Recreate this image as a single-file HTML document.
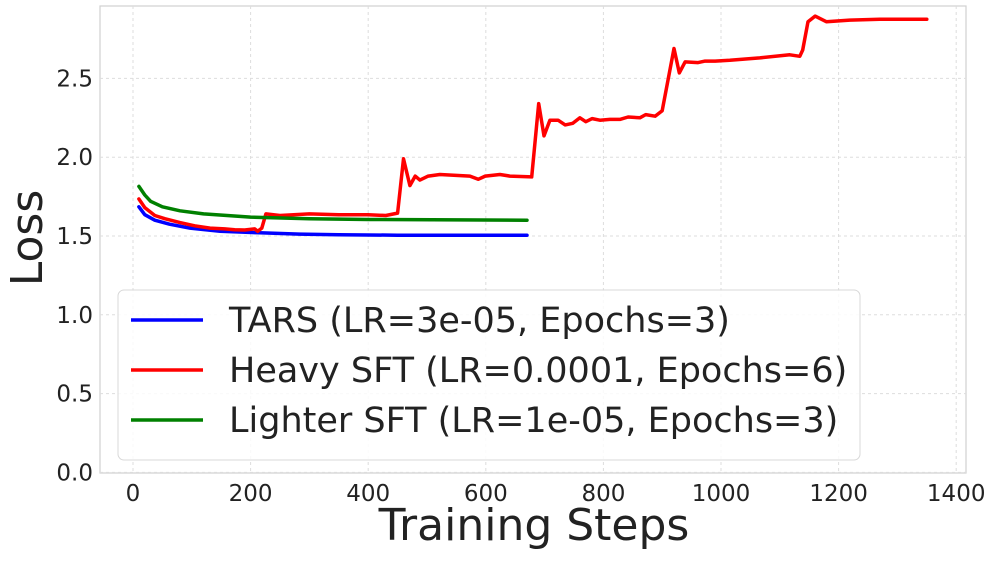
<!DOCTYPE html>
<html><head><meta charset="utf-8"><style>
body{margin:0;background:#fff;}
svg text{font-family:"DejaVu Sans","Liberation Sans",sans-serif;fill:#222;}
</style></head><body>
<svg id="chart" width="996" height="556"></svg>
<script>
const tarsSteps=[10,20,37,62,97,148,215,283,350,450,550,670];
const tarsLoss=[1.685,1.635,1.6,1.575,1.55,1.53,1.52,1.512,1.508,1.505,1.505,1.505];
const sftSteps=[10,20,37,54,80,105,131,156,173,190,207,212,219,226,250,300,350,400,430,450,460,471,480,488,502,522,573,587,599,624,641,678,690,699,709,723,735,748,760,770,781,794,811,828,842,862,872,888,900,920,929,939,961,973,990,1015,1066,1117,1134,1139,1148,1160,1179,1219,1270,1350];
const sftLoss=[1.735,1.68,1.63,1.61,1.585,1.565,1.55,1.545,1.54,1.538,1.545,1.53,1.55,1.64,1.63,1.64,1.635,1.635,1.63,1.645,1.99,1.82,1.88,1.855,1.88,1.89,1.88,1.86,1.88,1.89,1.88,1.875,2.34,2.135,2.235,2.235,2.205,2.215,2.25,2.225,2.245,2.235,2.24,2.24,2.255,2.25,2.27,2.26,2.295,2.69,2.535,2.605,2.6,2.61,2.61,2.615,2.63,2.65,2.64,2.68,2.86,2.895,2.86,2.87,2.875,2.875];
const lightSteps=[10,20,30,50,80,120,200,300,400,670];
const lightLoss=[1.815,1.76,1.72,1.685,1.66,1.64,1.62,1.61,1.605,1.6];
const xTicks=[0,200,400,600,800,1000,1200,1400];
const yTicks=[0.0,0.5,1.0,1.5,2.0,2.5];
const legendLabels=["TARS (LR=3e-05, Epochs=3)","Heavy SFT (LR=0.0001, Epochs=6)","Lighter SFT (LR=1e-05, Epochs=3)"];
const colors=["#0000ff","#ff0000","#008000"];

const NS="http://www.w3.org/2000/svg";
const svg=document.getElementById('chart');
const L=100,R=966,T=6,B=473;
const xs=v=>133+v*0.588;
const ys=v=>472.4-v*157.6;
function mk(tag,attrs,parent){const e=document.createElementNS(NS,tag);for(const k in attrs)e.setAttribute(k,attrs[k]);(parent||svg).appendChild(e);return e;}
const frame=mk('rect',{x:L,y:T,width:R-L,height:B-T,fill:'none',stroke:'#d0d0d0','stroke-width':1.2});


xTicks.forEach(t=>{
  const g=mk('line',{x1:xs(t),x2:xs(t),y1:T,y2:B,stroke:'#ddd','stroke-dasharray':'3,3'});
  
  
  const tx=mk('text',{x:xs(t),y:501,'text-anchor':'middle','font-size':23});
  tx.textContent=t;
  
  
});
yTicks.forEach(t=>{
  const g=mk('line',{x1:L,x2:R,y1:ys(t),y2:ys(t),stroke:'#ddd','stroke-dasharray':'3,3'});
  
  
  const tx=mk('text',{x:93,y:ys(t)+8,'text-anchor':'end','font-size':23});
  tx.textContent=t.toFixed(1);
  
  
});
const series=[[tarsSteps,tarsLoss,'tars-line'],[sftSteps,sftLoss,'heavy-sft-line'],[lightSteps,lightLoss,'lighter-sft-line']];
series.forEach((s,i)=>{
  const d=s[0].map((x,j)=>(j?'L':'M')+xs(x).toFixed(1)+','+ys(s[1][j]).toFixed(1)).join(' ');
  const p=mk('path',{d:d,fill:'none',stroke:colors[i],'stroke-width':3.5,'stroke-linejoin':'round','stroke-linecap':'round'});
  
  
});
const lg=mk('g',{});


mk('rect',{x:118,y:290,width:742,height:170,rx:6,fill:'#fff','fill-opacity':0.85,stroke:'#d8d8d8'},lg);
legendLabels.forEach((lab,i)=>{
  const y=320+i*50;
  const ln=mk('line',{x1:131,x2:203,y1:y,y2:y,stroke:colors[i],'stroke-width':3.5},lg);
  
  
  const tx=mk('text',{x:229,y:y+12,'font-size':35},lg);
  tx.textContent=lab;
  
  
});
const xt=mk('text',{x:534,y:540,'text-anchor':'middle','font-size':44});
xt.textContent='Training Steps';


const yt=mk('text',{x:0,y:0,'text-anchor':'middle','font-size':44,transform:'translate(42,238) rotate(-90)'});
yt.textContent='Loss';


</script>
</body></html>
